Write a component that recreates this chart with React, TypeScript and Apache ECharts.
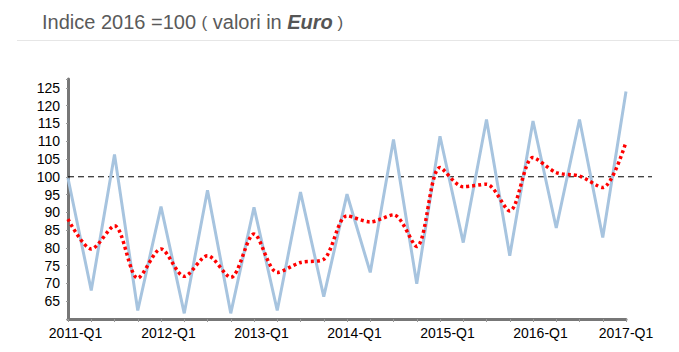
import React, { useEffect, useRef } from "react";
import * as echarts from "echarts";

const quarters: string[] = [
  "2011-Q1", "2011-Q2", "2011-Q3", "2011-Q4",
  "2012-Q1", "2012-Q2", "2012-Q3", "2012-Q4",
  "2013-Q1", "2013-Q2", "2013-Q3", "2013-Q4",
  "2014-Q1", "2014-Q2", "2014-Q3", "2014-Q4",
  "2015-Q1", "2015-Q2", "2015-Q3", "2015-Q4",
  "2016-Q1", "2016-Q2", "2016-Q3", "2016-Q4",
  "2017-Q1",
];

const quarterlyIndex: number[] = [
  99.6, 68.0, 106.3, 62.4, 91.6, 61.6, 96.2, 61.6,
  91.4, 62.4, 95.7, 66.3, 95.1, 73.1, 110.5, 69.9,
  111.4, 81.5, 116.1, 77.8, 115.7, 85.6, 116.1, 82.9,
  124.0,
];

const trendIndex: number[] = [
  88.1, 79.7, 86.2, 71.5, 79.7, 72.0, 77.8, 71.7,
  83.9, 73.1, 75.9, 76.8, 89.0, 87.3, 89.3, 80.4,
  102.6, 97.2, 97.9, 90.4, 105.4, 101.2, 100.2, 97.0,
  109.8,
];

const referenceLevel = 100;
const yTickValues: number[] = [65, 70, 75, 80, 85, 90, 95, 100, 105, 110, 115, 120, 125];

export default function App() {
  const ref = useRef<HTMLDivElement>(null);

  useEffect(() => {
    if (!ref.current) return;
    const chart = echarts.init(ref.current, null, { renderer: "svg" });
    const font = "Liberation Sans, Arial, sans-serif";
    const gridTop = 79;
    const gridBottom = 33;
    const yMin = 60;
    const yMax = 127.5;

    chart.setOption({
      animation: false,
      backgroundColor: "#ffffff",
      textStyle: { fontFamily: font },
      title: {
        left: 37,
        top: 7,
        text: "{n|Indice 2016 =100 }{p|(}{n| valori in }{b|Euro}{p| )}",
        textStyle: {
          fontWeight: "normal",
          fontSize: 20,
          color: "#555555",
          rich: {
            n: { fontSize: 20, color: "#5a5a5a", fontFamily: font, fontWeight: "normal" },
            p: { fontSize: 17, color: "#5a5a5a", fontFamily: font, fontWeight: "normal" },
            b: { fontSize: 20, color: "#555555", fontFamily: font, fontWeight: "bold", fontStyle: "italic" },
          },
        },
      },
      graphic: [
        {
          type: "line",
          shape: { x1: 17, y1: 40.5, x2: 679, y2: 40.5 },
          style: { stroke: "#e6e6e6", lineWidth: 1 },
          silent: true,
        },
      ],
      grid: [
        { left: 68, right: 53, top: gridTop, bottom: gridBottom },
        { left: 68, right: 27, top: gridTop, bottom: gridBottom },
      ],
      xAxis: [
        {
          type: "category",
          gridIndex: 0,
          data: quarters,
          boundaryGap: false,
          axisLine: { lineStyle: { color: "#777777", width: 3 } },
          axisTick: {
            show: true,
            interval: 0,
            length: 3,
            lineStyle: { color: "#999999", width: 1 },
          },
          axisLabel: {
            interval: 3,
            margin: 7,
            color: "#000000",
            fontSize: 14,
            fontFamily: font,
            formatter: (v: string, i: number) =>
              i === quarters.length - 1 ? "{e|" + v + "}" : "{a|" + v + "}",
            rich: {
              a: { fontSize: 14, color: "#000000", fontFamily: font, padding: [0, 0, 0, 15] },
              e: { fontSize: 14, color: "#000000", fontFamily: font },
            },
          },
          splitLine: { show: false },
        },
        {
          type: "value",
          gridIndex: 1,
          min: 0,
          max: 1,
          show: false,
        },
      ],
      yAxis: [
        {
          type: "value",
          gridIndex: 0,
          min: yMin,
          max: yMax,
          interval: 5,
          axisLine: { show: true, lineStyle: { color: "#777777", width: 3 } },
          axisTick: { show: true, length: 2, lineStyle: { color: "#999999", width: 1 } },
          axisLabel: {
            margin: 8,
            color: "#000000",
            fontSize: 14,
            fontFamily: font,
            formatter: (v: number) => (yTickValues.indexOf(v) >= 0 ? String(v) : ""),
          },
          splitLine: { show: false },
        },
        {
          type: "value",
          gridIndex: 1,
          min: yMin,
          max: yMax,
          show: false,
        },
      ],
      series: [
        {
          type: "line",
          xAxisIndex: 1,
          yAxisIndex: 1,
          data: [
            [0, referenceLevel],
            [1, referenceLevel],
          ],
          symbol: "none",
          lineStyle: { color: "#000000", width: 1, type: [6, 4] },
          silent: true,
          z: 1,
        },
        {
          name: "Indice trimestrale",
          type: "line",
          data: quarterlyIndex,
          symbol: "none",
          lineStyle: { color: "#a7c4df", width: 3 },
          z: 2,
        },
        {
          name: "Tendenza",
          type: "line",
          data: trendIndex,
          symbol: "none",
          smooth: 0.3,
          lineStyle: { color: "#ff0000", width: 3.5, type: [3, 3] },
          z: 3,
        },
      ],
    });

    return () => chart.dispose();
  }, []);

  return (
    <div
      ref={ref}
      style={{ position: "fixed", left: 0, top: 0, width: 679, height: 352 }}
    />
  );
}
